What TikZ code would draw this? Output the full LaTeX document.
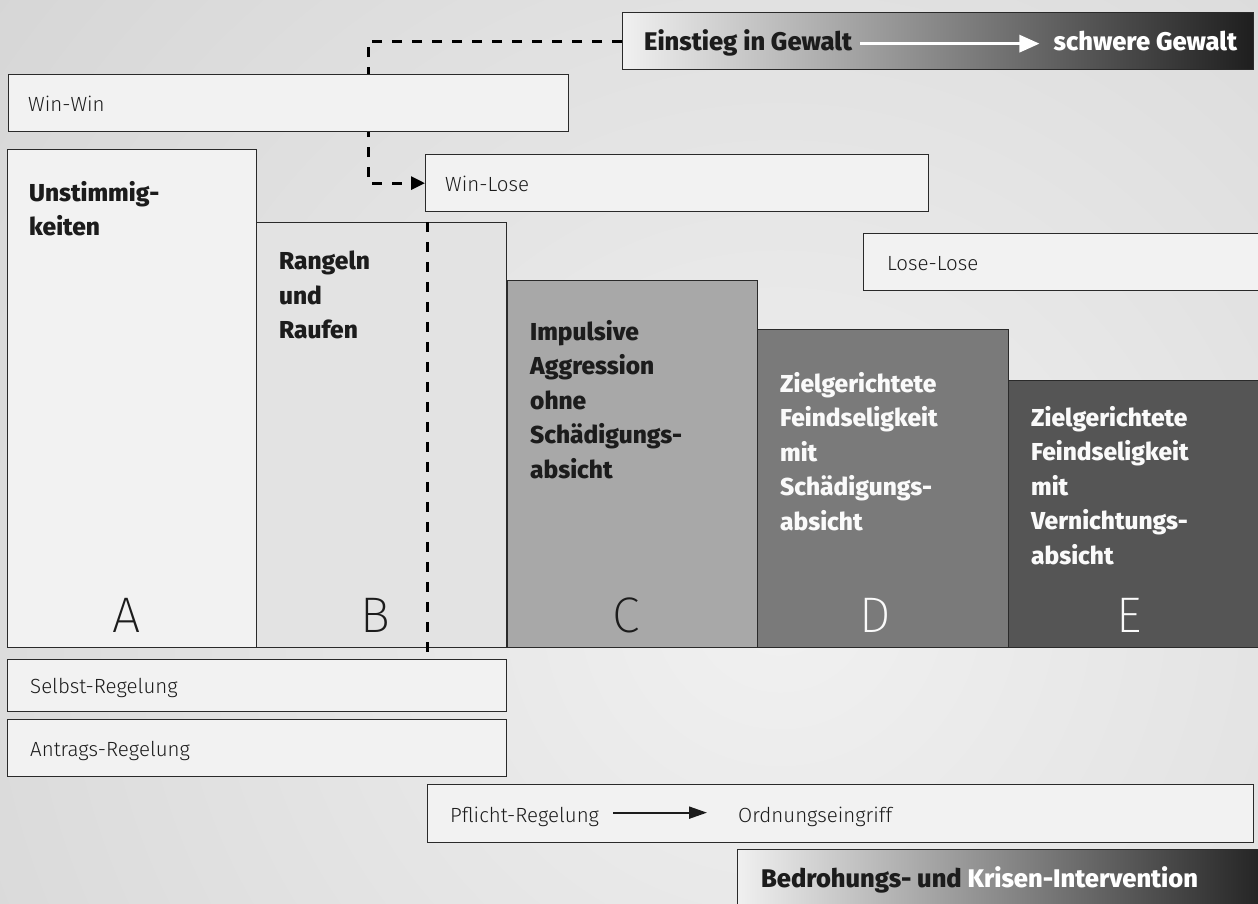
\documentclass[tikz,border=0pt]{standalone}
\usepackage{fontspec}
\setmainfont{Fira Sans}
\IfFontExistsTF{Fira Sans Light}{\newfontfamily\lightfont{Fira Sans Light}}{\newfontfamily\lightfont{Fira Sans}}
\IfFontExistsTF{Fira Sans ExtraLight}{\newfontfamily\thinfont{Fira Sans ExtraLight}}{\let\thinfont\lightfont}
\IfFontExistsTF{Fira Sans ExtraBold}{\newfontfamily\heavyfont{Fira Sans ExtraBold}}{\newcommand\heavyfont{\bfseries}}
\usetikzlibrary{arrows.meta,calc}

\definecolor{bgcenter}{HTML}{F1F1F1}
\definecolor{bgedge}{HTML}{CBCBCB}
\definecolor{edge}{HTML}{2A2A2A}
\definecolor{ink}{HTML}{1C1C1C}
\definecolor{paleink}{HTML}{FAFAFA}
\definecolor{boxA}{HTML}{F2F2F2}
\definecolor{boxB}{HTML}{E3E3E3}
\definecolor{boxC}{HTML}{A8A8A8}
\definecolor{boxD}{HTML}{7A7A7A}
\definecolor{boxE}{HTML}{555555}
\definecolor{shadelight}{HTML}{F0F0F0}
\definecolor{shadedark}{HTML}{1E1E1E}

\pgfdeclarelayer{back}
\pgfsetlayers{back,main}

\begin{document}
\begin{tikzpicture}[x=1pt,y=-1pt,
  frame/.style={draw=edge, line width=1.3pt, inner sep=0pt, anchor=north west},
  plain/.style={font=\lightfont\fontsize{20.5}{24}\selectfont, text=ink, inner sep=0pt, anchor=base west},
  title/.style={font=\heavyfont\fontsize{24.5}{34.5}\selectfont, align=left, inner sep=0pt, anchor=north west},
  letter/.style={font=\thinfont\fontsize{50}{50}\selectfont, inner sep=0pt, anchor=base},
  banner/.style={font=\heavyfont\fontsize{25.5}{28}\selectfont, inner sep=0pt},
  dashline/.style={draw=black, line width=3pt, dash pattern=on 10pt off 10pt},
]
\useasboundingbox (0,0) rectangle (1258,904);
\clip (0,0) rectangle (1258,904);

% stages A to E
\node[frame, fill=boxA, minimum width=249pt, minimum height=498pt] (A) at (7,149) {};
\node[frame, fill=boxB, minimum width=250pt, minimum height=425pt] (B) at (256,222) {};
\node[frame, fill=boxC, minimum width=250pt, minimum height=367pt] (C) at (507,280) {};
\node[frame, fill=boxD, minimum width=251pt, minimum height=318pt] (D) at (757,329) {};
\node[frame, fill=boxE, minimum width=262pt, minimum height=267pt] (E) at (1008,380) {};

\node[title, text=ink] (At) at ($(A.north west)+(22,32)$) {Unstimmig-\\keiten};
\node[title, text=ink] (Bt) at ($(B.north west)+(23,29)$) {Rangeln\\und\\Raufen};
\node[title, text=ink] (Ct) at ($(C.north west)+(23,40)$) {Impulsive\\Aggression\\ohne\\Schädigungs-\\absicht};
\node[title, text=paleink] (Dt) at ($(D.north west)+(23,43)$) {Zielgerichtete\\Feindseligkeit\\mit\\Schädigungs-\\absicht};
\node[title, text=paleink] (Et) at ($(E.north west)+(23,26)$) {Zielgerichtete\\Feindseligkeit\\mit\\Vernichtungs-\\absicht};

\node[letter, text=ink] (Al) at ($(A.south)+(-6,-16)$) {A};
\node[letter, text=ink] (Bl) at ($(B.south)+(-6,-16)$) {B};
\node[letter, text=ink] (Cl) at ($(C.south)+(-6,-16)$) {C};
\node[letter, text=paleink] (Dl) at ($(D.south)+(-8,-16)$) {D};
\node[letter, text=paleink] (El) at ($(E.south)+(-11,-16)$) {E};

% outcome bars
\node[frame, fill=boxA, minimum width=560pt, minimum height=57pt] (winwin) at (8,74) {};
\node[frame, fill=boxA, minimum width=503pt, minimum height=57pt] (winlose) at (425,154) {};
\node[frame, fill=boxA, minimum width=420pt, minimum height=57pt] (loselose) at (863,233) {};
\node[plain] (winwinT) at ($(winwin.west)+(20,8.5)$) {Win-Win};
\node[plain] (winloseT) at ($(winlose.west)+(20,8.5)$) {Win-Lose};
\node[plain] (loseloseT) at ($(loselose.west)+(24,8.5)$) {Lose-Lose};

% regulation bars
\node[frame, fill=boxA, minimum width=499pt, minimum height=52pt] (selbst) at (7,659) {};
\node[frame, fill=boxA, minimum width=499pt, minimum height=57pt] (antrag) at (7,719) {};
\node[frame, fill=boxA, minimum width=826pt, minimum height=58pt] (pflicht) at (427,784) {};
\node[plain] (selbstT) at ($(selbst.west)+(23,8)$) {Selbst-Regelung};
\node[plain] (antragT) at ($(antrag.west)+(23,8)$) {Antrags-Regelung};
\node[plain] (pflichtT) at ($(pflicht.west)+(23,9)$) {Pflicht-Regelung};
\node[plain] (ordnungT) at ($(pflicht.west)+(311,9)$) {Ordnungseingriff};
\draw[ink, line width=2pt, -{Triangle[length=18pt,width=12pt]}]
  ($(pflichtT.base east)+(14,-10)$) -- ($(ordnungT.base west)+(-31,-10)$);

% violence banner
\node[frame, left color=shadelight, right color=shadedark, minimum width=631pt, minimum height=57pt] (gewalt) at (622,12) {};
\node[banner, text=ink, anchor=base west] (einstieg) at ($(gewalt.west)+(22,9.5)$) {Einstieg in Gewalt};
\node[banner, text=white, anchor=base east] (schwer) at ($(gewalt.east)+(-17,9.5)$) {schwere Gewalt};
\draw[white, line width=3pt, -{Triangle[length=20pt,width=17pt]}]
  ($(einstieg.base east)+(8,-7)$) -- ($(schwer.base west)+(-14,-7)$);

% intervention banner
\node[frame, left color=shadelight, right color=shadedark, minimum width=540pt, minimum height=70pt] (krise) at (737,849) {};
\node[font=\heavyfont\fontsize{25.5}{30}\selectfont, text=ink, inner sep=0pt, anchor=base west] (kriseT)
  at ($(krise.north west)+(24,38)$) {Bedrohungs- und \textcolor{white}{Krisen-Intervention}};

% border between mutual and imposed regulation
\coordinate (cutTop) at (B.north -| pflicht.west);
\coordinate (cutBot) at ($(B.south -| pflicht.west)+(0,6)$);
\draw[dashline] (cutTop) -- (cutBot);

\begin{pgfonlayer}{back}
  \fill[bgedge] (0,0) rectangle (1258,904);
  \shade[inner color=bgcenter, outer color=bgedge] (780,600) circle (1400);
  \coordinate (bend) at ($(winlose.west)+(-57,0)$);
  \draw[dashline, -{Triangle[length=14pt,width=13pt]}] (gewalt.west) -| (bend) -- (winlose.west);
\end{pgfonlayer}
\end{tikzpicture}
\end{document}
